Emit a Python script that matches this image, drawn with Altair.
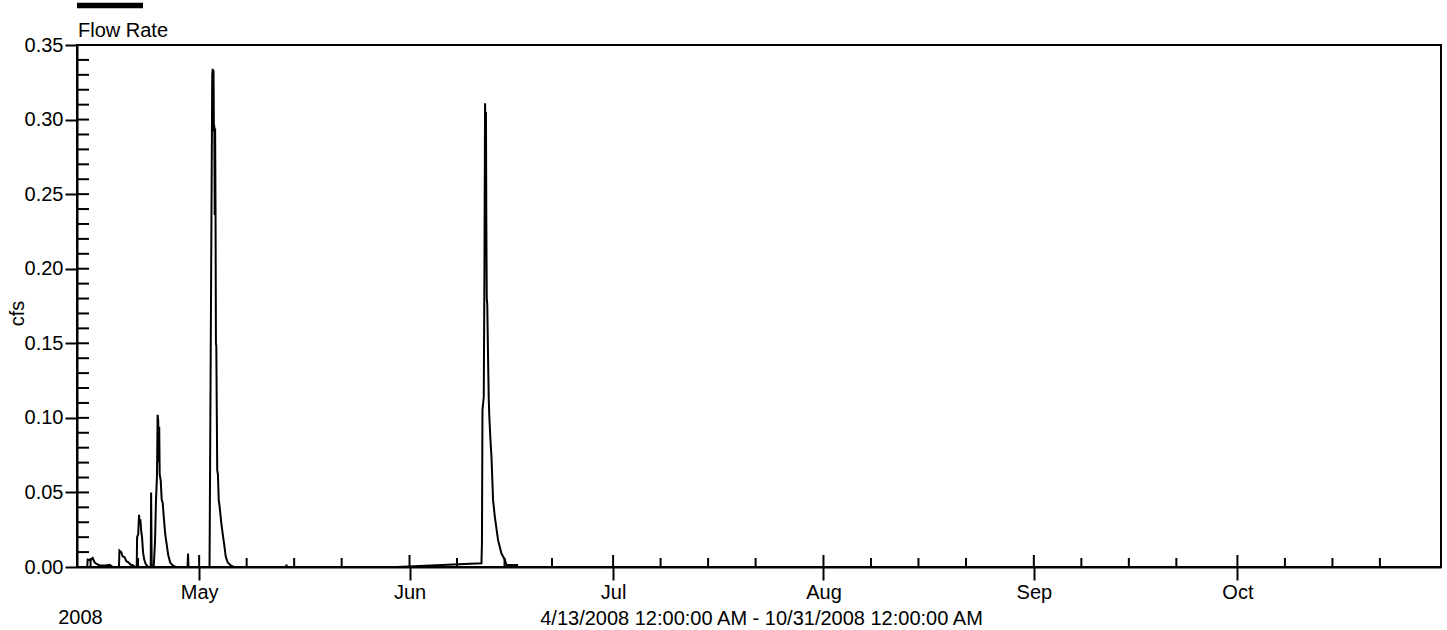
import altair as alt
import pandas as pd

# ---- data (flow rate, cfs) ----
times = [
    "2008-04-13T00:00:00", "2008-04-14T12:05:00", "2008-04-14T13:50:00", "2008-04-14T23:00:00",
    "2008-04-15T07:30:00", "2008-04-15T14:30:00", "2008-04-15T21:30:00", "2008-04-16T08:15:00",
    "2008-04-17T05:30:00", "2008-04-17T19:45:00", "2008-04-18T06:15:00", "2008-04-19T04:30:00",
    "2008-04-19T06:00:00", "2008-04-19T12:15:00", "2008-04-19T17:40:00", "2008-04-20T00:45:00",
    "2008-04-20T06:00:00", "2008-04-20T14:50:00", "2008-04-20T22:00:00", "2008-04-21T06:50:00",
    "2008-04-21T14:00:00", "2008-04-21T19:10:00", "2008-04-21T20:35:00", "2008-04-22T00:30:00",
    "2008-04-22T03:20:00", "2008-04-22T05:50:00", "2008-04-22T08:00:00", "2008-04-22T11:05:00",
    "2008-04-22T14:00:00", "2008-04-22T17:30:00", "2008-04-22T21:45:00", "2008-04-23T03:00:00",
    "2008-04-23T11:50:00", "2008-04-23T20:45:00", "2008-04-23T22:05:00", "2008-04-24T00:15:00",
    "2008-04-24T07:20:00", "2008-04-24T11:55:00", "2008-04-24T15:25:00", "2008-04-24T19:00:00",
    "2008-04-24T21:05:00", "2008-04-24T23:15:00", "2008-04-25T01:00:00", "2008-04-25T02:45:00",
    "2008-04-25T04:30:00", "2008-04-25T08:05:00", "2008-04-25T11:35:00", "2008-04-25T15:10:00",
    "2008-04-25T18:40:00", "2008-04-26T00:00:00", "2008-04-26T05:20:00", "2008-04-26T10:35:00",
    "2008-04-26T17:40:00", "2008-04-27T02:30:00", "2008-04-27T13:10:00", "2008-04-29T06:55:00",
    "2008-04-29T08:40:00", "2008-04-29T10:25:00", "2008-05-02T12:40:00", "2008-05-02T14:05:00",
    "2008-05-02T22:15:00", "2008-05-03T00:00:00", "2008-05-03T01:25:00", "2008-05-03T02:50:00",
    "2008-05-03T04:15:00", "2008-05-03T05:40:00", "2008-05-03T07:05:00", "2008-05-03T08:30:00",
    "2008-05-03T09:55:00", "2008-05-03T11:20:00", "2008-05-03T12:45:00", "2008-05-03T14:10:00",
    "2008-05-03T15:55:00", "2008-05-03T18:25:00", "2008-05-03T21:15:00", "2008-05-04T00:45:00",
    "2008-05-04T06:05:00", "2008-05-04T11:25:00", "2008-05-04T16:40:00", "2008-05-04T22:00:00",
    "2008-05-05T05:05:00", "2008-05-05T15:40:00", "2008-05-06T02:20:00", "2008-05-13T19:15:00",
    "2008-05-13T20:40:00", "2008-05-13T22:50:00", "2008-05-30T01:40:00", "2008-06-11T14:25:00",
    "2008-06-11T16:10:00", "2008-06-11T18:00:00", "2008-06-11T22:35:00", "2008-06-12T01:00:00",
    "2008-06-12T03:10:00", "2008-06-12T04:55:00", "2008-06-12T06:20:00", "2008-06-12T07:45:00",
    "2008-06-12T09:10:00", "2008-06-12T11:00:00", "2008-06-12T13:25:00", "2008-06-12T16:15:00",
    "2008-06-12T18:25:00", "2008-06-12T22:20:00", "2008-06-13T01:50:00", "2008-06-13T07:30:00",
    "2008-06-13T13:30:00", "2008-06-14T01:10:00", "2008-06-14T13:10:00", "2008-06-15T00:55:00",
    "2008-06-15T06:55:00", "2008-06-16T23:55:00",
]
flow = [
    0.000, 0.000, 0.005, 0.0045,
    0.006, 0.003, 0.002, 0.001,
    0.001, 0.0015, 0.000, 0.000,
    0.011, 0.010, 0.007, 0.0065,
    0.004, 0.003, 0.0015, 0.001,
    0.000, 0.000, 0.020, 0.022,
    0.035, 0.030, 0.032, 0.024,
    0.020, 0.010, 0.005, 0.002,
    0.000, 0.000, 0.050, 0.000,
    0.000, 0.017, 0.045, 0.062,
    0.102, 0.098, 0.070, 0.094,
    0.062, 0.058, 0.045, 0.043,
    0.034, 0.022, 0.015, 0.008,
    0.003, 0.001, 0.000, 0.000,
    0.009, 0.000, 0.000, 0.045,
    0.330, 0.334, 0.300, 0.333,
    0.292, 0.296, 0.236, 0.294,
    0.240, 0.150, 0.148, 0.110,
    0.065, 0.062, 0.045, 0.040,
    0.030, 0.022, 0.015, 0.007,
    0.003, 0.001, 0.000, 0.000,
    0.0015, 0.000, 0.000, 0.0025,
    0.016, 0.105, 0.114, 0.200,
    0.311, 0.296, 0.305, 0.230,
    0.180, 0.176, 0.145, 0.112,
    0.100, 0.085, 0.074, 0.045,
    0.034, 0.018, 0.009, 0.005,
    0.0013, 0.0013,
]

# ---- axis ticks / labels ----
month_ticks = ["2008-05-01", "2008-06-01", "2008-07-01", "2008-08-01", "2008-09-01", "2008-10-01"]
minor_ticks = [
    "2008-04-15", "2008-04-22",
    "2008-05-08", "2008-05-15", "2008-05-22",
    "2008-06-08", "2008-06-15", "2008-06-22",
    "2008-07-08", "2008-07-15", "2008-07-22",
    "2008-08-08", "2008-08-15", "2008-08-22",
    "2008-09-08", "2008-09-15", "2008-09-22",
    "2008-10-08", "2008-10-15", "2008-10-22",
]
y_major = [0.00, 0.05, 0.10, 0.15, 0.20, 0.25, 0.30, 0.35]
y_minor = [0.01, 0.02, 0.03, 0.04, 0.05, 0.06, 0.07, 0.08, 0.09, 0.10,
           0.11, 0.12, 0.13, 0.14, 0.15, 0.16, 0.17, 0.18, 0.19, 0.20,
           0.21, 0.22, 0.23, 0.24, 0.25, 0.26, 0.27, 0.28, 0.29, 0.30,
           0.31, 0.32, 0.33, 0.34]
series_name = "Flow Rate"
y_title = "cfs"
year_label = "2008"
range_label = "4/13/2008 12:00:00 AM - 10/31/2008 12:00:00 AM"

FONT = "Liberation Sans"
W, H = 1364, 522


def dt(s):
    t = pd.Timestamp(s)
    return alt.DateTime(year=t.year, month=t.month, date=t.day, hours=t.hour, minutes=t.minute)


xscale = alt.Scale(domain=[dt("2008-04-13"), dt("2008-10-31")], nice=False)
yscale = alt.Scale(domain=[0, 0.35], nice=False, zero=False)

x_axis = alt.Axis(values=[dt(m) for m in month_ticks], format="%b",
                  title=range_label, titleX=684, titleY=57,
                  titleAlign="center", titleBaseline="alphabetic",
                  tickSize=13, labelPadding=2, labelFlush=False)
y_axis = alt.Axis(values=y_major, format=".2f", title=y_title,
                  titleX=-60, titleY=268, titleAngle=270,
                  titleAlign="center", titleBaseline="middle",
                  tickSize=12, labelPadding=2)

df = pd.DataFrame({"time": times, "cfs": flow})

line = alt.Chart(df).mark_line(color="black", strokeWidth=2).encode(
    x=alt.X("time:T", scale=xscale, axis=x_axis),
    y=alt.Y("cfs:Q", scale=yscale, axis=y_axis),
)

x_major_inner = alt.Chart(pd.DataFrame({"time": month_ticks})).mark_rule(
    color="black", strokeWidth=2).encode(
    x=alt.X("time:T", scale=xscale, axis=x_axis),
    y=alt.value(H - 12), y2=alt.value(H))

x_minor = alt.Chart(pd.DataFrame({"time": minor_ticks})).mark_rule(
    color="black", strokeWidth=2).encode(
    x=alt.X("time:T", scale=xscale, axis=x_axis),
    y=alt.value(H - 9), y2=alt.value(H))

y_inner = alt.Chart(pd.DataFrame({"cfs": y_minor})).mark_rule(
    color="black", strokeWidth=2).encode(
    y=alt.Y("cfs:Q", scale=yscale, axis=y_axis),
    x=alt.value(0), x2=alt.value(12))

legend_line = alt.Chart(pd.DataFrame({"k": [series_name]})).mark_rule(
    color="black", strokeWidth=5.5).encode(
    x=alt.value(0), x2=alt.value(66), y=alt.value(-39.5))

legend_text = alt.Chart(pd.DataFrame({"k": [series_name]})).mark_text(
    font=FONT, fontSize=20, align="left", baseline="alphabetic", color="black").encode(
    text="k:N", x=alt.value(1), y=alt.value(-8.5))

year_text = alt.Chart(pd.DataFrame({"k": [year_label]})).mark_text(
    font=FONT, fontSize=20, align="center", baseline="alphabetic", color="black").encode(
    text="k:N", x=alt.value(3.5), y=alt.value(H + 57))

chart = alt.layer(
    line, x_minor, x_major_inner, y_inner, legend_line, legend_text, year_text
).properties(
    width=W, height=H,
    autosize=alt.AutoSizeParams(type="none"),
    padding={"left": 77, "top": 45, "right": 6, "bottom": 63},
    background="white",
).configure_view(
    stroke="black", strokeWidth=2
).configure_axis(
    labelFont=FONT, labelFontSize=20, labelColor="black",
    titleFont=FONT, titleFontSize=20, titleColor="black", titleFontWeight="normal",
    tickColor="black", tickWidth=2, domainColor="black", domainWidth=2,
    grid=False, labelOverlap=False,
)

chart.save("out.html", embed_options={"renderer": "svg", "actions": False})
